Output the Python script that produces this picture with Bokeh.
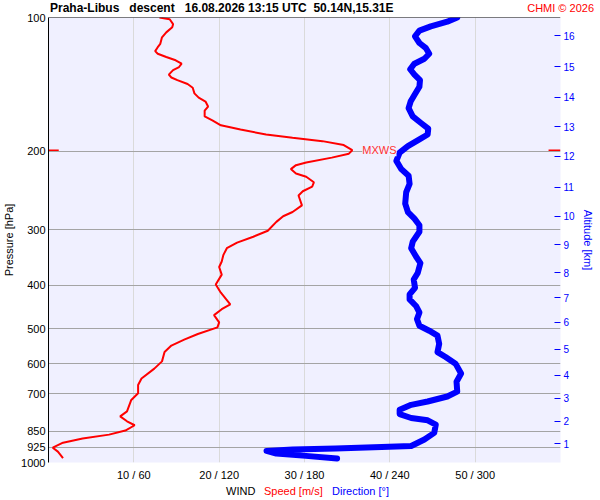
from bokeh.plotting import figure
from bokeh.layouts import column
from bokeh.models import LogAxis, FixedTicker, Range1d, Label, PrintfTickFormatter, Span, Div
from bokeh.embed import file_html
from bokeh.resources import INLINE

# wind speed profile: pressure [hPa] / speed [m/s]
speed_hpa = [100.0, 100.9, 103.5, 105.2, 108.0, 110.8, 114.6, 116.6, 119.0, 120.6,
             122.7, 124.8, 127.0, 129.2, 131.3, 134.4, 136.4, 138.3, 141.1, 143.8,
             148.1, 151.4, 154.5, 158.5, 162.0, 166.8, 170.3, 174.7, 178.6, 183.2,
             186.4, 189.6, 193.5, 198.7, 202.3, 206.5, 211.8, 214.7, 219.1, 224.1,
             227.9, 234.6, 239.9, 245.7, 251.2, 264.4, 273.6, 279.7, 287.9, 301.5,
             310.9, 320.6, 329.9, 341.5, 353.4, 363.7, 378.3, 398.1, 415.4, 441.0,
             452.4, 466.5, 484.3, 496.9, 514.2, 529.5, 546.0, 564.8, 592.6, 615.2,
             647.4, 669.9, 699.0, 723.4, 767.6, 787.5, 808.0, 824.7, 847.8, 865.7,
             883.6, 902.6, 926.2, 945.4, 978.1]
speed_ms = [13.0, 14.2, 14.6, 14.5, 13.8, 13.3, 13.1, 12.8, 12.5, 12.8,
            13.8, 14.9, 15.6, 15.3, 14.6, 14.1, 14.4, 15.1, 16.3, 16.9,
            17.1, 17.6, 18.4, 18.7, 18.3, 18.3, 19.2, 20.2, 22.5, 25.5,
            28.6, 32.1, 34.6, 35.6, 35.2, 33.2, 30.2, 29.0, 28.4, 29.0,
            30.2, 31.1, 30.9, 29.8, 29.3, 29.7, 28.6, 27.5, 26.7, 25.7,
            24.0, 22.1, 20.9, 20.5, 20.3, 20.0, 20.3, 19.6, 20.2, 21.3,
            20.3, 19.4, 20.0, 19.8, 17.5, 15.9, 14.4, 13.6, 13.3, 12.4,
            10.9, 10.5, 10.5, 9.7, 9.2, 8.4, 9.2, 10.1, 9.0, 7.1,
            4.0, 1.7, 0.5, 1.1, 1.7]

# wind direction profile: pressure [hPa] / direction [deg]
dir_hpa = [100.0, 102.2, 104.7, 107.0, 110.2, 114.1, 117.2, 120.6, 123.8, 127.0,
           130.7, 134.4, 138.3, 143.1, 149.3, 154.5, 159.9, 166.8, 172.6, 177.7,
           183.2, 187.9, 194.5, 201.3, 210.0, 219.1, 226.7, 236.6, 247.0, 262.0,
           273.6, 283.1, 292.9, 303.1, 319.0, 329.9, 344.4, 356.3, 375.0, 388.1,
           405.0, 419.1, 430.0, 444.9, 460.2, 476.2, 492.9, 505.6, 518.7, 541.2,
           564.8, 579.4, 599.6, 631.0, 658.4, 692.9, 710.8, 729.3, 742.0, 761.5,
           778.4, 794.3, 803.9, 822.3, 857.9, 887.8, 918.3, 923.0, 929.6, 934.4,
           942.0, 955.0, 966.3, 979.7]
dir_deg = [287.4, 280.4, 268.8, 260.8, 257.7, 260.8, 265.4, 267.7, 264.3, 257.3,
           254.3, 257.3, 261.2, 260.8, 257.3, 254.6, 253.2, 256.1, 261.9, 267.0,
           266.6, 260.8, 252.7, 246.9, 244.6, 248.0, 253.2, 253.9, 251.5, 250.8,
           252.7, 257.3, 260.8, 260.8, 256.1, 255.0, 258.4, 261.5, 259.6, 256.8,
           257.7, 253.9, 253.9, 258.4, 260.8, 259.1, 260.8, 267.7, 273.5, 274.7,
           273.5, 279.2, 286.2, 290.1, 286.9, 287.4, 280.4, 266.6, 255.0, 246.9,
           246.9, 255.0, 266.6, 272.3, 271.2, 264.3, 255.0, 234.2, 201.8, 171.7,
           153.3, 160.2, 181.0, 202.9]

pressure_ticks = [100, 200, 300, 400, 500, 600, 700, 850, 925, 1000]
speed_ticks = [10, 20, 30, 40, 50]
dir_ticks = [60, 120, 180, 240, 300]
alt_km = [1, 2, 3, 4, 5, 6, 7, 8, 9, 10, 11, 12, 13, 14, 15, 16]
alt_hpa = [908, 808, 717, 637, 557, 484, 426, 375, 324, 280, 241, 205, 176, 151, 129, 110]

title = "Praha-Libus   descent   16.08.2026 13:15 UTC  50.14N,15.31E"
credit = "CHMI \u00a9 2026"

FONT = "Liberation Sans"
RED = "#FF0000"
BLUE = "#0000FF"
W = 596

p = figure(width=W, height=470, y_axis_type="log",
           x_range=Range1d(0, 60), y_range=Range1d(1000, 100),
           output_backend="svg", toolbar_location=None,
           min_border_top=4, min_border_bottom=18, min_border_left=30, min_border_right=28)
p.extra_x_ranges = {"dir": Range1d(0, 360)}
p.background_fill_color = "#F0F0FF"
p.border_fill_color = "#FFFFFF"
p.outline_line_color = None

# grid
p.ygrid.ticker = FixedTicker(ticks=pressure_ticks)
p.ygrid.grid_line_color = "#A4A4A4"
p.xgrid.ticker = FixedTicker(ticks=speed_ticks + [60])
p.xgrid.grid_line_color = "#DADADA"

# left pressure axis
ya = p.yaxis[0]
ya.ticker = FixedTicker(ticks=pressure_ticks)
ya.formatter = PrintfTickFormatter(format="%d")
ya.axis_label = "Pressure [hPa]"
ya.axis_label_text_font = FONT
ya.axis_label_text_font_style = "normal"
ya.axis_label_text_font_size = "11px"
ya.axis_label_text_color = "black"
ya.axis_label_standoff = 3
ya.major_label_text_font = FONT
ya.major_label_text_font_size = "11px"
ya.major_label_text_color = "black"
ya.major_label_standoff = 3
ya.major_tick_in = 0
ya.major_tick_out = 0
ya.minor_tick_line_color = None
ya.axis_line_color = "black"

# bottom wind axis
xa = p.xaxis[0]
xa.ticker = FixedTicker(ticks=speed_ticks)
xa.major_label_overrides = {s: f"{s} / {d}" for s, d in zip(speed_ticks, dir_ticks)}
xa.major_label_text_font = FONT
xa.major_label_text_font_size = "11px"
xa.major_label_text_color = "black"
xa.major_label_standoff = 6
xa.major_tick_in = 0
xa.major_tick_out = 0
xa.minor_tick_line_color = None
xa.axis_line_color = None

# right altitude axis
ra = LogAxis(ticker=FixedTicker(ticks=alt_hpa),
             major_label_overrides={h: str(k) for h, k in zip(alt_hpa, alt_km)},
             axis_label="Altitude [km]")
ra.axis_label_text_font = FONT
ra.axis_label_text_font_style = "normal"
ra.axis_label_text_font_size = "11px"
ra.axis_label_text_color = BLUE
ra.axis_label_standoff = 4
ra.major_label_text_font = FONT
ra.major_label_text_font_size = "10px"
ra.major_label_text_color = BLUE
ra.major_label_standoff = 3
ra.major_tick_in = 6
ra.major_tick_out = 0
ra.major_tick_line_color = BLUE
ra.minor_tick_line_color = None
ra.axis_line_color = None
p.add_layout(ra, "right")

p.add_layout(Span(location=100, dimension="width", line_color="black", line_width=1))

# profiles
p.line(dir_deg, dir_hpa, x_range_name="dir", line_color=BLUE, line_width=6,
       line_cap="round", line_join="round")
p.line(speed_ms, speed_hpa, line_color=RED, line_width=2)

# maximum wind marker
imax = speed_ms.index(max(speed_ms))
mxws_hpa = speed_hpa[imax]
p.segment(x0=[0, 58.6], y0=[mxws_hpa] * 2, x1=[1.2, 60], y1=[mxws_hpa] * 2,
          line_color=RED, line_width=1.5)
p.add_layout(Label(x=speed_ms[imax], y=mxws_hpa, x_offset=10, text="MXWS",
                   text_font=FONT, text_font_size="11px", text_color="#FF3030",
                   text_baseline="middle", background_fill_color="#F0F0FF"))

# title row and caption row (labels outside the frame get clipped, so use divs)
top = Div(width=W, height=13, margin=0, text=(
    f'<div style="position:relative;width:{W}px;height:13px;font-family:\'{FONT}\';line-height:12px">'
    f'<span style="position:absolute;left:50px;top:2px;font-size:12px;font-weight:bold;'
    f'white-space:pre;color:#000">{title}</span>'
    f'<span style="position:absolute;right:2px;top:2px;font-size:11px;color:{RED}">{credit}</span></div>'))

caption = [("WIND", "#000000", 226), ("Speed [m/s]", RED, 264), ("Direction [\u00b0]", BLUE, 332)]
bottom = Div(width=W, height=14, margin=0, text=(
    f'<div style="position:relative;width:{W}px;height:14px;font-family:\'{FONT}\';'
    f'font-size:11px;line-height:12px">'
    + "".join(f'<span style="position:absolute;left:{x}px;top:2px;color:{c}">{t}</span>'
              for t, c, x in caption)
    + '</div>'))

layout = column(top, p, bottom, spacing=0)

open("out.html", "w").write(file_html(layout, INLINE))
